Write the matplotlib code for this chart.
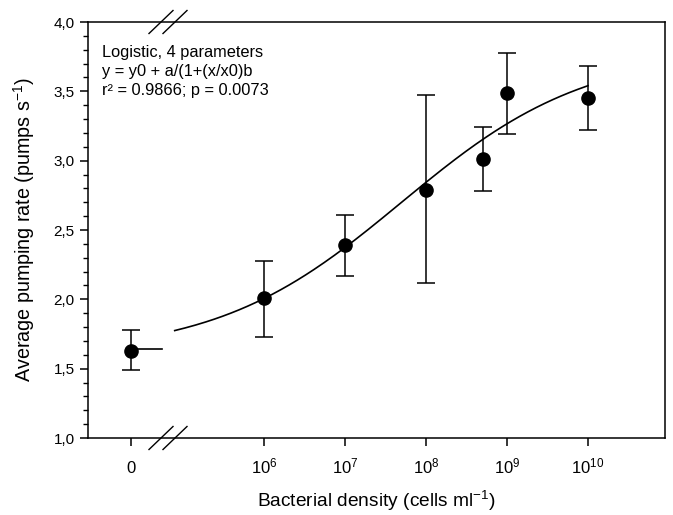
import matplotlib
matplotlib.use("Agg")
import matplotlib.pyplot as plt
import numpy as np

plt.rcParams['font.family'] = ['Liberation Sans', 'DejaVu Sans']
plt.rcParams['mathtext.fontset'] = 'custom'
plt.rcParams['mathtext.rm'] = 'Liberation Sans'
plt.rcParams['mathtext.it'] = 'Liberation Sans:italic'
plt.rcParams['mathtext.bf'] = 'Liberation Sans:bold'

# bacterial density (cells ml-1), 0 = control
density = [0, 1e6, 1e7, 1e8, 5e8, 1e9, 1e10]
rate = [1.63, 2.01, 2.39, 2.79, 3.01, 3.49, 3.45]
err_low = [1.49, 1.73, 2.17, 2.12, 2.78, 3.19, 3.22]
err_high = [1.78, 2.28, 2.61, 3.47, 3.24, 3.78, 3.68]

tick_labels = ['0', r'$\mathregular{10^{6}}$', r'$\mathregular{10^{7}}$', r'$\mathregular{10^{8}}$',
               r'$\mathregular{10^{9}}$', r'$\mathregular{10^{10}}$']

fit_lines = ['Logistic, 4 parameters',
             'y = y0 + a/(1+(x/x0)b',
             'r\u00b2 = 0.9866; p = 0.0073']

# fitted logistic: y = y0 + a/(1+(x/x0)^b)
y0, a, x0, b = 1.6, 2.2, 10 ** 7.7, -0.38
fit_start, fit_end = 10 ** 4.9, 1e10

# where the "0" sits on the log axis (broken axis)
zero_pos = 10 ** 4.36

xs = [zero_pos if d == 0 else d for d in density]
ylo = np.array(rate) - np.array(err_low)
yhi = np.array(err_high) - np.array(rate)

fig = plt.figure(figsize=(6.73, 5.15), dpi=100)
ax = fig.add_axes([88 / 673, 1 - 438 / 515, 577 / 673, 416 / 515])
ax.set_xscale('log')

xf = np.logspace(np.log10(fit_start), np.log10(fit_end), 200)
yf = y0 + a / (1 + (xf / x0) ** b)
ax.plot(xf, yf, color='black', lw=1.2)

# control line
ax.plot([zero_pos, 10 ** 4.74], [1.64, 1.64], color='black', lw=1.2)

ax.errorbar(xs, rate, yerr=[ylo, yhi], fmt='o', color='black', ms=9.5,
            ecolor='black', elinewidth=1.1, capsize=6.8, capthick=1.1, zorder=3)

ax.set_xlim(10 ** 3.83, 10 ** 10.95)
ax.set_ylim(1.0, 4.0)
ax.set_xticks([zero_pos, 1e6, 1e7, 1e8, 1e9, 1e10])
ax.set_xticklabels(tick_labels)
ax.xaxis.set_minor_locator(matplotlib.ticker.NullLocator())
ax.set_yticks(np.arange(1.0, 4.01, 0.5))
ax.set_yticklabels([f'{v:.1f}'.replace('.', ',') for v in np.arange(1.0, 4.01, 0.5)])
ax.set_yticks(np.arange(1.0, 4.01, 0.1), minor=True)

ax.tick_params(axis='both', which='major', direction='out', length=6, width=1.1,
               labelsize=11, top=False, right=False)
ax.tick_params(axis='y', which='minor', direction='out', length=3.5, width=1.0)
ax.tick_params(axis='x', pad=19.5, labelsize=12)
for lab in ax.get_xticklabels():
    lab.set_verticalalignment('baseline')
for s in ax.spines.values():
    s.set_linewidth(1.1)

ax.set_xlabel(r'Bacterial density (cells ml$^{\mathregular{-1}}$)', fontsize=13.8, labelpad=9)
ax.set_ylabel(r'Average pumping rate (pumps s$^{\mathregular{-1}}$)', fontsize=14.2, labelpad=12)

for i, line in enumerate(fit_lines):
    ax.text(0.024, 0.9166 - i * 0.0455, line, transform=ax.transAxes,
            fontsize=11.8, va='baseline', ha='left')

# break marks on top and bottom spines
bx = (168 - 88) / 577
dx, dy = 12 / 577, 11.5 / 416
for yb in (0, 1):
    for off in (-7 / 577, 7 / 577):
        ax.plot([bx + off - dx, bx + off + dx], [yb - dy, yb + dy],
                transform=ax.transAxes, color='black', lw=1.0, clip_on=False)

fig.savefig('out.png', dpi=100)
